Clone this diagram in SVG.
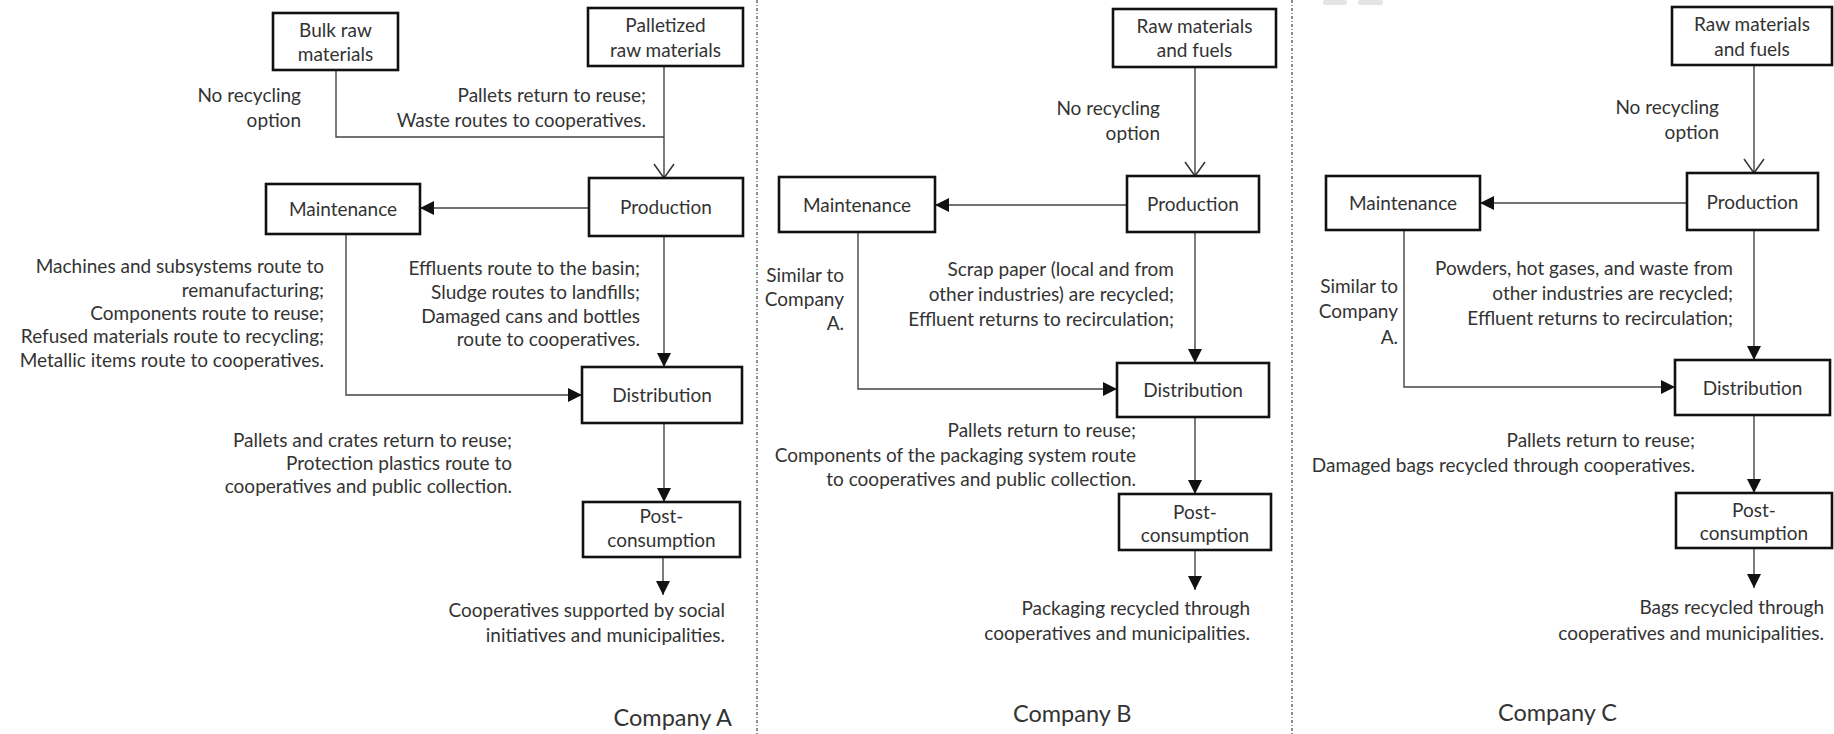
<svg xmlns="http://www.w3.org/2000/svg" width="1834" height="734" viewBox="0 0 1834 734">
<style>
.box{fill:#fff;stroke:#111;stroke-width:2.6}
.t{font-family:Lato,"Liberation Sans",sans-serif;font-size:19px;fill:#333}
.c{text-anchor:middle}
.e{text-anchor:end}
.big{font-size:23.5px}
.conn path{fill:none;stroke:#444;stroke-width:1.4}
.sep{stroke:#444;stroke-width:1.2;stroke-dasharray:3 2 1 2;fill:none}
</style>
<defs>
<marker id="fa" markerUnits="userSpaceOnUse" markerWidth="14" markerHeight="14" viewBox="0 0 14 14" refX="14" refY="7" orient="auto"><path d="M0,0 L14,7 L0,14 z" fill="#111"/></marker>
<marker id="oa" markerUnits="userSpaceOnUse" markerWidth="16" markerHeight="22" viewBox="0 0 16 22" refX="15" refY="11" orient="auto"><path d="M1,1 L15,11 L1,21" fill="none" stroke="#333" stroke-width="1.5"/></marker>
</defs>
<rect width="1834" height="734" fill="#fff"/>
<line class="sep" x1="757" y1="0" x2="757" y2="734"/>
<line class="sep" x1="1292" y1="0" x2="1292" y2="734"/>
<rect x="1323" y="0" width="24" height="5" rx="2" fill="#e4e4e4"/>
<rect x="1358" y="0" width="25" height="5" rx="2" fill="#e4e4e4"/>

<g class="conn" id="connectors">
<path d="M336,70 V137 H664"/>
<path d="M664,66 V178" marker-end="url(#oa)"/>
<path d="M589,208 H420" marker-end="url(#fa)"/>
<path d="M346,234 V395 H582" marker-end="url(#fa)"/>
<path d="M664,236 V367" marker-end="url(#fa)"/>
<path d="M664,423 V502" marker-end="url(#fa)"/>
<path d="M663,557 V595" marker-end="url(#fa)"/>

<path d="M1195,67 V176" marker-end="url(#oa)"/>
<path d="M1127,205 H935" marker-end="url(#fa)"/>
<path d="M858,232 V389 H1117" marker-end="url(#fa)"/>
<path d="M1195,232 V363" marker-end="url(#fa)"/>
<path d="M1195,417 V494" marker-end="url(#fa)"/>
<path d="M1195,550 V590" marker-end="url(#fa)"/>

<path d="M1754,65 V173" marker-end="url(#oa)"/>
<path d="M1687,203 H1480" marker-end="url(#fa)"/>
<path d="M1404,230 V387 H1675" marker-end="url(#fa)"/>
<path d="M1754,230 V360" marker-end="url(#fa)"/>
<path d="M1754,415 V493" marker-end="url(#fa)"/>
<path d="M1754,548 V588" marker-end="url(#fa)"/>
</g>

<!-- Company A -->
<g id="a-bulk"><rect class="box" x="273" y="13" width="125" height="57"/><text class="t c" x="335.5" y="37">Bulk raw</text><text class="t c" x="335.5" y="61">materials</text></g>
<g id="a-palletized"><rect class="box" x="588" y="8" width="155" height="58"/><text class="t c" x="665.5" y="32">Palletized</text><text class="t c" x="665.5" y="57">raw materials</text></g>
<g id="a-production"><rect class="box" x="589" y="178" width="154" height="58"/><text class="t c" x="666" y="214">Production</text></g>
<g id="a-maintenance"><rect class="box" x="266" y="184" width="154" height="50"/><text class="t c" x="343" y="216">Maintenance</text></g>
<g id="a-distribution"><rect class="box" x="582" y="367" width="160" height="56"/><text class="t c" x="662" y="402">Distribution</text></g>
<g id="a-post"><rect class="box" x="583" y="502" width="157" height="55"/><text class="t c" x="661.5" y="523">Post-</text><text class="t c" x="661.5" y="547">consumption</text></g>
<g id="a-notes">
<text class="t e" x="301" y="102">No recycling</text><text class="t e" x="301" y="127">option</text>
<text class="t e" x="646" y="102">Pallets return to reuse;</text><text class="t e" x="646" y="127">Waste routes to cooperatives.</text>
<text class="t e" x="324" y="273">Machines and subsystems route to</text>
<text class="t e" x="324" y="297">remanufacturing;</text>
<text class="t e" x="324" y="320">Components  route to reuse;</text>
<text class="t e" x="324" y="343">Refused materials route to recycling;</text>
<text class="t e" x="324" y="367">Metallic items route to cooperatives.</text>
<text class="t e" x="640" y="275">Effluents route to the basin;</text>
<text class="t e" x="640" y="299">Sludge routes to landfills;</text>
<text class="t e" x="640" y="323">Damaged cans and bottles</text>
<text class="t e" x="640" y="346">route to cooperatives.</text>
<text class="t e" x="512" y="447">Pallets and crates return to reuse;</text>
<text class="t e" x="512" y="470">Protection plastics route to</text>
<text class="t e" x="512" y="493">cooperatives and public collection.</text>
<text class="t e" x="725" y="617">Cooperatives supported by social</text>
<text class="t e" x="725" y="642">initiatives and municipalities.</text>
<text class="t e big" x="732" y="726">Company A</text>
</g>

<!-- Company B -->
<g id="b-raw"><rect class="box" x="1113" y="9" width="163" height="58"/><text class="t c" x="1194.5" y="33">Raw materials</text><text class="t c" x="1194.5" y="57">and fuels</text></g>
<g id="b-production"><rect class="box" x="1127" y="176" width="132" height="56"/><text class="t c" x="1193" y="211">Production</text></g>
<g id="b-maintenance"><rect class="box" x="779" y="177" width="156" height="55"/><text class="t c" x="857" y="212">Maintenance</text></g>
<g id="b-distribution"><rect class="box" x="1117" y="363" width="152" height="54"/><text class="t c" x="1193" y="397">Distribution</text></g>
<g id="b-post"><rect class="box" x="1119" y="494" width="152" height="56"/><text class="t c" x="1195" y="519">Post-</text><text class="t c" x="1195" y="542">consumption</text></g>
<g id="b-notes">
<text class="t e" x="1160" y="115">No recycling</text><text class="t e" x="1160" y="140">option</text>
<text class="t e" x="844" y="282">Similar to</text><text class="t e" x="844" y="306">Company</text><text class="t e" x="844" y="330">A.</text>
<text class="t e" x="1174" y="276">Scrap paper (local and from</text>
<text class="t e" x="1174" y="301">other  industries) are recycled;</text>
<text class="t e" x="1174" y="326">Effluent returns to recirculation;</text>
<text class="t e" x="1136" y="437">Pallets return to reuse;</text>
<text class="t e" x="1136" y="462">Components  of the packaging system route</text>
<text class="t e" x="1136" y="486">to cooperatives and public collection.</text>
<text class="t e" x="1250" y="615">Packaging recycled through</text>
<text class="t e" x="1250" y="640">cooperatives and municipalities.</text>
<text class="t big" x="1013" y="722">Company B</text>
</g>

<!-- Company C -->
<g id="c-raw"><rect class="box" x="1672" y="7" width="160" height="58"/><text class="t c" x="1752" y="31">Raw materials</text><text class="t c" x="1752" y="56">and fuels</text></g>
<g id="c-production"><rect class="box" x="1687" y="173" width="131" height="57"/><text class="t c" x="1752.5" y="209">Production</text></g>
<g id="c-maintenance"><rect class="box" x="1326" y="176" width="154" height="54"/><text class="t c" x="1403" y="210">Maintenance</text></g>
<g id="c-distribution"><rect class="box" x="1675" y="360" width="155" height="55"/><text class="t c" x="1752.5" y="395">Distribution</text></g>
<g id="c-post"><rect class="box" x="1676" y="493" width="156" height="55"/><text class="t c" x="1754" y="517">Post-</text><text class="t c" x="1754" y="540">consumption</text></g>
<g id="c-notes">
<text class="t e" x="1719" y="114">No recycling</text><text class="t e" x="1719" y="139">option</text>
<text class="t e" x="1398" y="293">Similar to</text><text class="t e" x="1398" y="318">Company</text><text class="t e" x="1398" y="344">A.</text>
<text class="t e" x="1733" y="275">Powders, hot gases, and waste from</text>
<text class="t e" x="1733" y="300">other  industries are recycled;</text>
<text class="t e" x="1733" y="325">Effluent returns to recirculation;</text>
<text class="t e" x="1695" y="447">Pallets return to reuse;</text>
<text class="t e" x="1695" y="472">Damaged  bags recycled through cooperatives.</text>
<text class="t e" x="1824" y="614">Bags recycled through</text>
<text class="t e" x="1824" y="640">cooperatives and municipalities.</text>
<text class="t big" x="1498" y="721">Company C</text>
</g>
</svg>
